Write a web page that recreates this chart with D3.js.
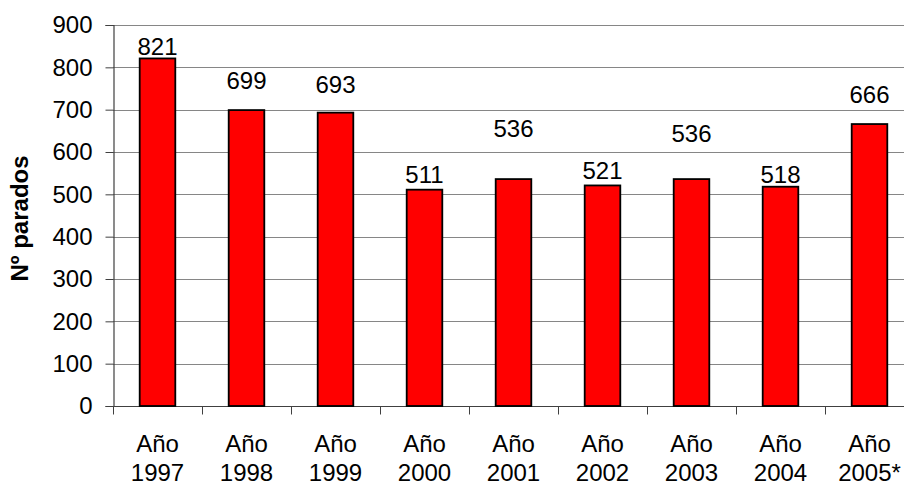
<!DOCTYPE html>
<html>
<head>
<meta charset="utf-8">
<script src="https://cdn.jsdelivr.net/npm/d3@7"></script>
<style>
  body { margin: 0; background: #fff; }
  text { font-family: "Liberation Sans", Arial, sans-serif; }
</style>
</head>
<body>
<div id="chart"></div>
<script>
// categories and values
var years = ["1997", "1998", "1999", "2000", "2001", "2002", "2003", "2004", "2005*"];
var parados = [821, 699, 693, 511, 536, 521, 536, 518, 666];
// where each value label sits (in axis units, as placed in the original)
var labelAt = [830, 749, 740, 527, 635, 536, 624, 527, 716];
var yTicks = [0, 100, 200, 300, 400, 500, 600, 700, 800, 900];

var margin = {top: 25, right: -10, bottom: 81, left: 113},
  width = 904 - margin.left - margin.right,
  height = 487 - margin.top - margin.bottom;

var svg = d3.select("#chart")
  .append("svg")
    .attr("width", 904)
    .attr("height", 487)
  .append("g")
    .attr("transform", "translate(" + margin.left + "," + margin.top + ")");

var x = d3.scaleBand()
  .domain(years)
  .range([0, width])
  .paddingInner(0.6)
  .paddingOuter(0.3);

var y = d3.scaleLinear()
  .domain([0, 900])
  .range([height, 0]);

// gridlines
svg.append("g")
  .selectAll("line")
  .data(yTicks.slice(1))
  .enter()
  .append("line")
    .attr("x1", 0)
    .attr("x2", width)
    .attr("y1", function(d) { return Math.round(y(d)) + 0.5; })
    .attr("y2", function(d) { return Math.round(y(d)) + 0.5; })
    .attr("stroke", "#868686")
    .attr("stroke-width", 1);

// Y axis
var yAxis = svg.append("g")
  .attr("transform", "translate(0.5,0)")
  .call(d3.axisLeft(y).tickValues(yTicks).tickSize(8).tickPadding(13));
yAxis.select(".domain").attr("stroke", "#404040").attr("stroke-width", 1.2);
yAxis.selectAll(".tick line").attr("stroke", "#404040");
yAxis.selectAll("text")
  .style("font-size", "24px")
  .style("font-family", "Liberation Sans, Arial, sans-serif")
  .attr("fill", "#000");

// X axis with ticks on category boundaries
var bounds = d3.range(years.length + 1).map(function(i) { return i * x.step(); });
var xAxisG = svg.append("g")
  .attr("transform", "translate(0," + (Math.round(height) + 0.5) + ")");
xAxisG.append("line")
  .attr("x1", 0).attr("x2", width)
  .attr("stroke", "#404040").attr("stroke-width", 1.2);
xAxisG.selectAll(".xt")
  .data(bounds)
  .enter()
  .append("line")
    .attr("x1", function(d) { return Math.round(d) + 0.5; })
    .attr("x2", function(d) { return Math.round(d) + 0.5; })
    .attr("y1", 0).attr("y2", 8)
    .attr("stroke", "#404040");

var xl = xAxisG.selectAll(".xl")
  .data(years)
  .enter()
  .append("text")
    .attr("text-anchor", "middle")
    .attr("x", function(d) { return x(d) + x.bandwidth() / 2; })
    .style("font-size", "24px")
    .attr("fill", "#000");
xl.append("tspan")
  .attr("x", function(d) { return x(d) + x.bandwidth() / 2; })
  .attr("y", 45)
  .text("Año");
xl.append("tspan")
  .attr("x", function(d) { return x(d) + x.bandwidth() / 2; })
  .attr("y", 74)
  .text(function(d) { return d; });

// Bars
svg.selectAll("mybar")
  .data(parados)
  .enter()
  .append("rect")
    .attr("x", function(d, i) { return x(years[i]); })
    .attr("y", function(d) { return y(d); })
    .attr("width", x.bandwidth())
    .attr("height", function(d) { return height - y(d); })
    .attr("fill", "#ff0000")
    .attr("stroke", "#000")
    .attr("stroke-width", 1.8);

// value labels
svg.selectAll("mylabel")
  .data(parados)
  .enter()
  .append("text")
    .attr("text-anchor", "middle")
    .attr("x", function(d, i) { return x(years[i]) + x.bandwidth() / 2; })
    .attr("y", function(d, i) { return y(labelAt[i]); })
    .style("font-size", "24px")
    .attr("fill", "#000")
    .text(function(d) { return d; });

// Y title
svg.append("text")
  .attr("transform", "translate(" + (-85) + "," + (height / 2 + 3) + ")rotate(-90)")
  .attr("text-anchor", "middle")
  .style("font-size", "24px")
  .style("font-weight", "bold")
  .attr("fill", "#000")
  .text("Nº parados");
</script>
</body>
</html>
